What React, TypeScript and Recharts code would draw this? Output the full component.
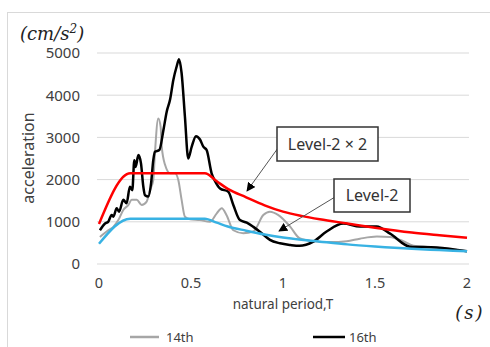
import { LineChart, Line, XAxis, YAxis, CartesianGrid } from "recharts";

// natural period T (s) and response acceleration (cm/s^2)
const t16 = [0.005, 0.033, 0.05, 0.069, 0.078, 0.096, 0.109, 0.132, 0.15, 0.168, 0.181, 0.192, 0.199, 0.214, 0.228, 0.241, 0.25, 0.268, 0.283, 0.295, 0.304, 0.328, 0.35, 0.368, 0.386, 0.404, 0.422, 0.435, 0.449, 0.467, 0.485, 0.504, 0.527, 0.549, 0.567, 0.585, 0.612, 0.63, 0.658, 0.703, 0.73, 0.766, 0.803, 0.839, 0.884, 0.929, 0.984, 1.04, 1.09, 1.165, 1.237, 1.328, 1.418, 1.509, 1.582, 1.69, 1.835, 2.0];
const v16 = [800, 960, 1000, 1160, 1120, 1320, 1240, 1520, 1440, 1830, 1750, 2460, 2300, 2580, 2390, 1830, 1630, 1600, 1910, 2460, 2660, 2700, 3170, 3610, 3890, 4360, 4680, 4850, 4520, 3490, 2500, 2780, 3030, 2950, 2780, 2700, 2150, 1970, 1790, 1710, 1400, 1040, 980, 880, 730, 570, 490, 450, 430, 530, 770, 960, 890, 890, 720, 410, 390, 300];

const t14 = [0.005, 0.05, 0.078, 0.105, 0.132, 0.16, 0.178, 0.205, 0.232, 0.259, 0.277, 0.295, 0.304, 0.322, 0.335, 0.341, 0.359, 0.386, 0.413, 0.431, 0.449, 0.467, 0.495, 0.549, 0.603, 0.64, 0.667, 0.694, 0.73, 0.784, 0.839, 0.893, 0.929, 0.975, 1.04, 1.09, 1.165, 1.255, 1.346, 1.418, 1.51, 1.58, 1.654, 1.71, 1.8, 2.0];
const v14 = [640, 800, 880, 1040, 1280, 1400, 1520, 1520, 1400, 1480, 1750, 1990, 2630, 3450, 3250, 2780, 2350, 2150, 2150, 1990, 1520, 1120, 1060, 1040, 1000, 1200, 1320, 1150, 800, 730, 770, 1160, 1240, 1160, 880, 610, 540, 520, 540, 600, 650, 640, 540, 430, 400, 300];

const tLevel = [0, 0.17, 0.575, 0.64, 0.7, 0.8, 0.9, 1.0, 1.1, 1.2, 1.35, 1.5, 1.7, 1.85, 2.0];
const vLevel2x2 = [950, 2150, 2150, 1960, 1780, 1580, 1390, 1240, 1140, 1060, 960, 860, 745, 680, 620];
const vLevel2 = [480, 1075, 1075, 980, 890, 790, 700, 630, 575, 530, 465, 415, 360, 330, 300];

const xTicks = [0, 0.5, 1, 1.5, 2];
const yTicks = [0, 1000, 2000, 3000, 4000, 5000];

const zip = (ts: number[], vs: number[]) => ts.map((t, i) => ({ t, v: vs[i] }));
const s16 = zip(t16, v16);
const s14 = zip(t14, v14);
const sL22 = zip(tLevel, vLevel2x2);
const sL2 = zip(tLevel, vLevel2);

const font = "'Noto Sans', sans-serif";
const tick = { fill: "#404040", fontSize: 15, fontFamily: font };

export default function App() {
  return (
    <div style={{ position: "absolute", left: 0, top: 0, width: 490, height: 347, overflow: "hidden", background: "#fff" }}>
      <div style={{ position: "absolute", left: 7, top: 12, width: 520, height: 400, border: "1px solid #d9d9d9" }} />
      <div style={{ position: "absolute", left: 0, top: 0 }}>
        <LineChart width={490} height={347} margin={{ top: 53, right: 21, bottom: 53, left: 0 }}>
          <CartesianGrid vertical={false} stroke="#d9d9d9" strokeWidth={1} />
          <XAxis
            dataKey="t"
            type="number"
            domain={[0, 2]}
            ticks={xTicks}
            allowDuplicatedCategory={false}
            padding={{ left: 2, right: 2 }}
            axisLine={false}
            tickLine={false}
            tickMargin={8}
            height={30}
            tick={{ ...tick, fontSize: 14.5 }}
          />
          <YAxis
            domain={[0, 5000]}
            ticks={yTicks}
            axisLine={false}
            tickLine={false}
            tickMargin={11}
            width={97}
            tick={tick}
          />
          <Line data={s14} dataKey="v" type="monotone" stroke="#a6a6a6" strokeWidth={2} dot={false} isAnimationActive={false} />
          <Line data={s16} dataKey="v" type="monotone" stroke="#000000" strokeWidth={2.5} dot={false} isAnimationActive={false} />
          <Line data={sL2} dataKey="v" type="monotone" stroke="#38b2e3" strokeWidth={2.5} dot={false} isAnimationActive={false} />
          <Line data={sL22} dataKey="v" type="monotone" stroke="#ff0000" strokeWidth={2.5} dot={false} isAnimationActive={false} />
        </LineChart>
      </div>
      <svg width={490} height={347} style={{ position: "absolute", left: 0, top: 0, pointerEvents: "none" }}>
        <defs>
          <marker id="ah" viewBox="0 0 10 10" refX="9" refY="5" markerWidth="9" markerHeight="9" orient="auto">
            <path d="M0,0 L10,5 L0,10 z" fill="#000" />
          </marker>
        </defs>
        <text x={20} y={40} fontFamily="'DejaVu Serif', serif" fontStyle="italic" fontSize={18} fill="#222">
          (cm/s<tspan dy={-7} fontSize={12}>2</tspan><tspan dy={7}>)</tspan>
        </text>
        <text x={0} y={0} transform="translate(34,158) rotate(-90)" textAnchor="middle" fontFamily={font} fontSize={16} fill="#404040">
          acceleration
        </text>
        <text x={283} y={309} textAnchor="middle" fontFamily={font} fontSize={13.5} fill="#404040">
          natural period,T
        </text>
        <text x={470} y={319} textAnchor="middle" fontFamily="'DejaVu Serif', serif" fontStyle="italic" fontSize={18} letterSpacing={2} fill="#222">
          (s)
        </text>
        <line x1={130} y1={337} x2={159} y2={337} stroke="#a6a6a6" strokeWidth={2.5} />
        <text x={166} y={342} fontFamily={font} fontSize={13} fill="#404040">14th</text>
        <line x1={313} y1={337} x2={345} y2={337} stroke="#000" strokeWidth={2.5} />
        <text x={349} y={342} fontFamily={font} fontSize={13} fill="#404040">16th</text>

        <line x1={278} y1={148} x2={247} y2={191} stroke="#555" strokeWidth={1} markerEnd="url(#ah)" />
        <rect x={277} y={127} width={101} height={34} fill="#fff" stroke="#333" strokeWidth={1.5} />
        <text x={327.5} y={150} textAnchor="middle" fontFamily={font} fontSize={16} fill="#333">Level-2 × 2</text>

        <line x1={335} y1={197} x2={279} y2={231} stroke="#555" strokeWidth={1} markerEnd="url(#ah)" />
        <rect x={334} y={179} width={76} height={33} fill="#fff" stroke="#333" strokeWidth={1.5} />
        <text x={372} y={201} textAnchor="middle" fontFamily={font} fontSize={16} fill="#333">Level-2</text>
      </svg>
    </div>
  );
}
